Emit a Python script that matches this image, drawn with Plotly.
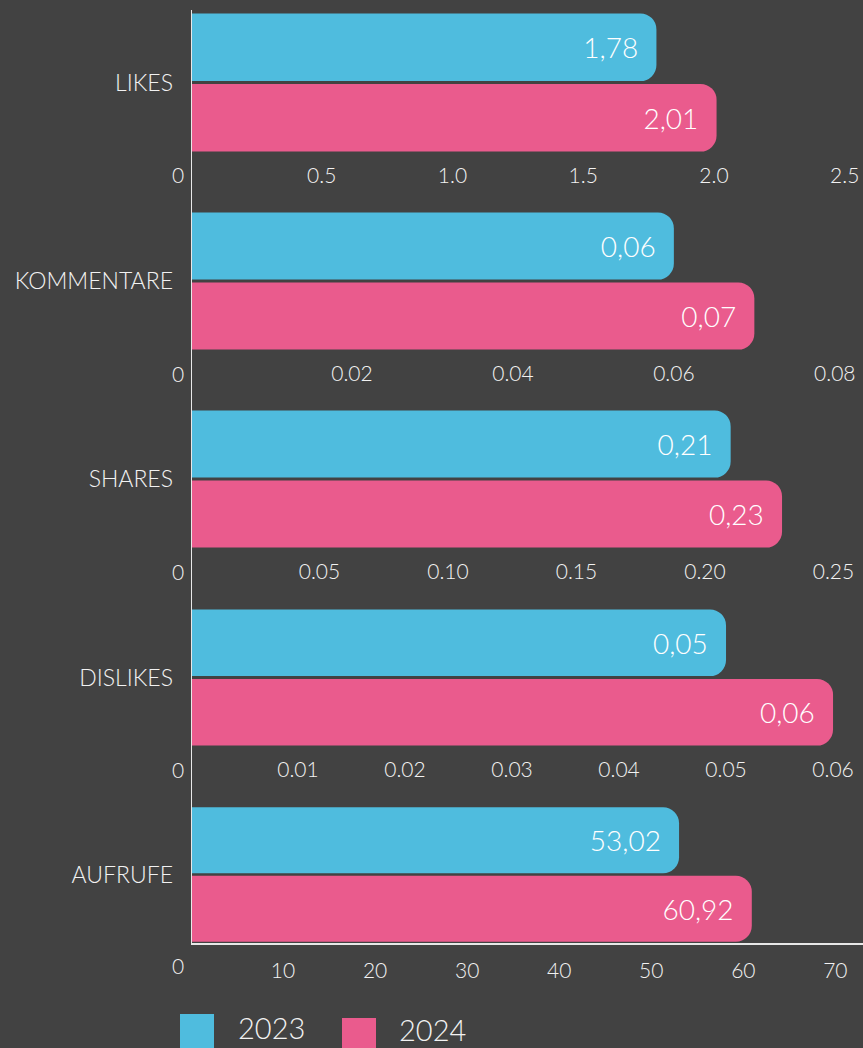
import plotly.graph_objects as go
from plotly.subplots import make_subplots

# ---- data ----
metrics = ["LIKES", "KOMMENTARE", "SHARES", "DISLIKES", "AUFRUFE"]
years = ["2023", "2024"]
values_2023 = [1.78, 0.06, 0.21, 0.05, 53.02]
values_2024 = [2.01, 0.07, 0.23, 0.06, 60.92]
tick_values = [
    [0.5, 1.0, 1.5, 2.0, 2.5],
    [0.02, 0.04, 0.06, 0.08],
    [0.05, 0.10, 0.15, 0.20, 0.25],
    [0.01, 0.02, 0.03, 0.04, 0.05, 0.06],
    [10, 20, 30, 40, 50, 60, 70],
]
tick_formats = [".1f", ".2f", ".2f", ".2f", "d"]
axis_max = [2.57, 0.0835, 0.2615, 0.0628, 73.0]

# ---- styling ----
W, H = 863, 1048
BG = "#424242"
BLUE = "#4FBCDE"
PINK = "#EA5B8D"
TXT = "#F2F2F2"
LINE = "#E8E8E8"
FONT = "Lato"
WEIGHT = 300

M_L, M_R, M_T, M_B = 191, 0, 10, 105
plot_h = H - M_T - M_B
plot_w = W - M_L - M_R


def py(y):
    """page pixel row -> paper y"""
    return (H - M_B - y) / plot_h


def px(x):
    """page pixel column -> paper x"""
    return (x - M_L) / plot_w


# vertical extent of every panel, in page pixels
tops = [12, 211, 409, 608, 806]
bottoms = [153, 351, 549, 747, 943]

fig = make_subplots(rows=len(metrics), cols=1, shared_xaxes=False)


def fmt(v):
    return f"{v:.2f}".replace(".", ",") + "\u00a0\u00a0"


for i, m in enumerate(metrics):
    row = i + 1
    for year, vals, col in ((years[0], values_2023, BLUE), (years[1], values_2024, PINK)):
        v = vals[i]
        fig.add_trace(
            go.Bar(
                x=[v], y=[m], orientation="h", name=year,
                marker=dict(color=col, cornerradius=16, line=dict(width=0)),
                text=[fmt(v)], textposition="inside", insidetextanchor="end",
                textfont=dict(family=FONT, size=28, color="#FFFFFF", weight=WEIGHT),
                showlegend=False, hoverinfo="skip",
            ),
            row=row, col=1,
        )
    xa = "xaxis" if row == 1 else f"xaxis{row}"
    ya = "yaxis" if row == 1 else f"yaxis{row}"
    fig.layout[xa].update(
        domain=[0, 1], range=[0, axis_max[i]], tickvals=tick_values[i],
        tickformat=tick_formats[i], showgrid=False, zeroline=False, ticks="",
        tickfont=dict(family=FONT, size=21, color=TXT, weight=WEIGHT),
        showline=(row == len(metrics)), linecolor=LINE, linewidth=2,
        ticklabelstandoff=8, fixedrange=True,
    )
    fig.layout[ya].update(
        domain=[py(bottoms[i]), py(tops[i])], type="category", autorange="reversed",
        showgrid=False, zeroline=False, ticks="", showline=False,
        tickfont=dict(family=FONT, size=23, color=TXT, weight=WEIGHT),
        ticklabelstandoff=17, fixedrange=True,
    )
    # zero label sits just left of the value axis
    xr = "x" if row == 1 else f"x{row}"
    yr = "y domain" if row == 1 else f"y{row} domain"
    fig.add_annotation(
        x=0, xref=xr, y=0, yref=yr, text="0", showarrow=False,
        xanchor="right", yanchor="middle", xshift=-5, yshift=-22,
        font=dict(family=FONT, size=21, color=TXT, weight=WEIGHT),
    )

# shared baseline running through all panels
fig.add_shape(type="line", xref="x", yref="paper", x0=0, x1=0,
              y0=0, y1=1, line=dict(color=LINE, width=2), layer="above")

# legend
legend_items = [(years[0], BLUE, 180, 1014, 271, 1027), (years[1], PINK, 342, 1018, 432, 1029)]
for label, col, sx, sy, tx, ty in legend_items:
    fig.add_shape(type="rect", xref="paper", yref="paper",
                  x0=px(sx), x1=px(sx + 34), y0=py(sy + 40), y1=py(sy),
                  fillcolor=col, line=dict(width=0), layer="above")
    fig.add_annotation(xref="paper", yref="paper", x=px(tx), y=py(ty), text=label,
                       showarrow=False, xanchor="center", yanchor="middle",
                       font=dict(family=FONT, size=29, color=TXT, weight=WEIGHT))

fig.update_layout(
    width=W, height=H, barmode="group", bargap=0, bargroupgap=0.04,
    paper_bgcolor=BG, plot_bgcolor=BG,
    margin=dict(l=M_L, r=M_R, t=M_T, b=M_B, pad=0),
    showlegend=False,
)

fig.write_html("out.html", config={"displayModeBar": False})
